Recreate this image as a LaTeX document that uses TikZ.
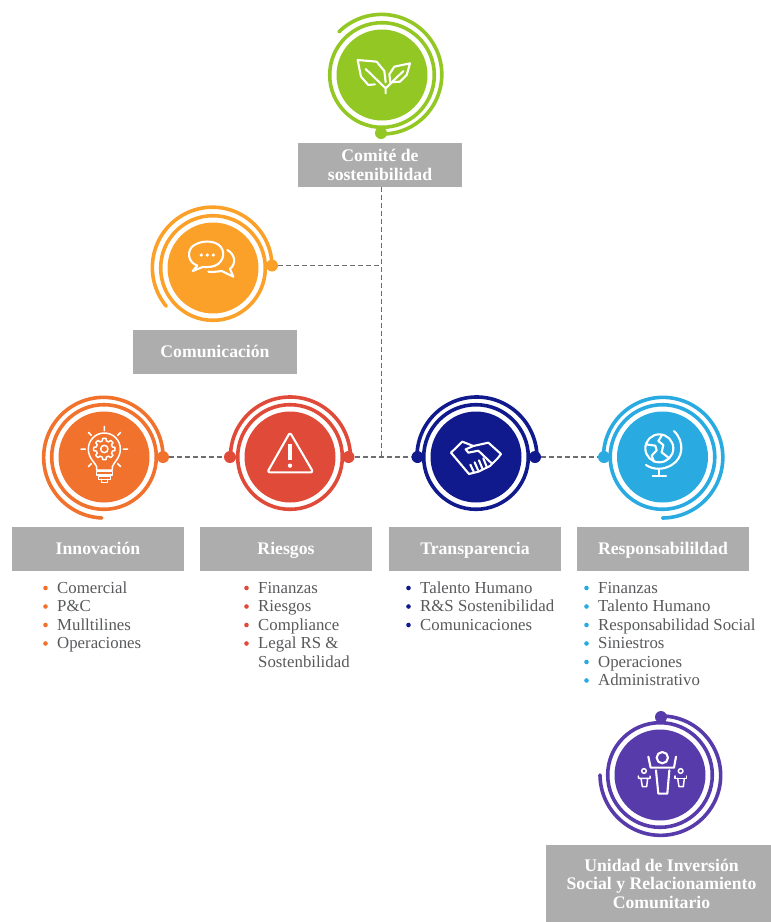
\documentclass[tikz,border=0pt]{standalone}
\usepackage{fontspec}
\setmainfont{Liberation Serif}
\definecolor{cgreen}{HTML}{92C724}
\definecolor{camber}{HTML}{FBA12A}
\definecolor{corange}{HTML}{F0722D}
\definecolor{cred}{HTML}{E04A39}
\definecolor{cnavy}{HTML}{101A8C}
\definecolor{csky}{HTML}{29ABE2}
\definecolor{cpurple}{HTML}{573BAA}
\definecolor{cbox}{HTML}{ADADAD}
\definecolor{ctext}{HTML}{58595B}
\definecolor{cdash}{HTML}{6D6E71}
\tikzset{
  title/.style={fill=cbox,text=white,inner sep=0pt,align=center,font=\fontsize{17.7}{18.5}\selectfont\bfseries},
  item/.style={anchor=base west,inner sep=0pt,text=ctext,font=\fontsize{16.8}{18.5}\selectfont},
  bul/.style={circle,inner sep=0pt,minimum size=4.6pt},
  dotn/.style={circle,inner sep=0pt,minimum size=12pt,fill=#1},
  conn/.style={draw=cdash,line width=1.7pt,dash pattern=on 5pt off 3pt},
  ic/.style={draw=white,line width=2.1pt,line join=round,line cap=round},
  icthin/.style={draw=white,line width=1.5pt,line join=round,line cap=round}
}
\newcommand{\badgedisc}[3]{%
  \fill[#3] (#1,#2) circle[radius=45.5];
  \draw[#3,line width=3.6pt] (#1,#2) circle[radius=52.3];
}
\newcommand{\badgespiral}[5]{% cx cy color a0 a1
  \draw[#3,line width=3.6pt,line cap=round] plot[domain=#4:#5,samples=90,variable=\t]
   ({#1+(59+2*(\t-(#4))/((#5)-(#4)))*cos(\t)},{#2+(59+2*(\t-(#4))/((#5)-(#4)))*sin(\t)});
}
\newcommand{\listitem}[5]{% name x baseline text colour
  \node[item] (#1) at (#2,#3) {#4};
  \node[bul,fill=#5] (#1b) at (#2-11.5,#3-5) {};
}
\begin{document}
\begin{tikzpicture}[x=1pt,y=-1pt]
\useasboundingbox (0,0) rectangle (771,922);

% title boxes
\node[title,minimum width=164pt,minimum height=44pt] (tcomite) at (380,165) {\raisebox{-1pt}{Comité de}\\\raisebox{-1pt}{sostenibilidad}};
\node[title,minimum width=164pt,minimum height=44pt] (tcomu) at (215,352) {\vphantom{Ág}Comunicación};
\node[title,minimum width=172pt,minimum height=44pt] (tinno) at (98,549) {\vphantom{Ág}Innovación};
\node[title,minimum width=172pt,minimum height=44pt] (trisk) at (286,549) {\vphantom{Ág}Riesgos};
\node[title,minimum width=172pt,minimum height=44pt] (ttran) at (475,549) {\vphantom{Ág}Transparencia};
\node[title,minimum width=172pt,minimum height=44pt] (tresp) at (663,549) {\vphantom{Ág}Responsabilildad};
\node[title,minimum width=225pt,minimum height=77pt] (tunid) at (658.5,883.5) {\hspace*{6pt}\raisebox{-3pt}{Unidad de Inversión}\\\hspace*{6pt}\raisebox{-3pt}{Social y Relacionamiento}\\\hspace*{6pt}\raisebox{-3pt}{Comunitario}};

% badges
\badgedisc{382}{75}{cgreen}
\badgespiral{382}{75}{cgreen}{90}{-135}
\node[dotn=cgreen] (dgreen) at (381,133) {};

\badgedisc{213}{268}{camber}
\badgespiral{213}{267}{camber}{0}{-220}
\node[dotn=camber] (damber) at (272,265.5) {};

\badgedisc{104}{457}{corange}
\badgespiral{104}{457}{corange}{0}{-268}
\node[dotn=corange] (dinno) at (163,457) {};

\badgedisc{290}{457}{cred}
\badgespiral{289.5}{457}{cred}{-180}{0}
\node[dotn=cred] (drl) at (230,457) {};
\node[dotn=cred] (drr) at (348.5,457) {};

\badgedisc{476}{457}{cnavy}
\badgespiral{476}{457}{cnavy}{-180}{0}
\node[dotn=cnavy] (dtl) at (417.5,457) {};
\node[dotn=cnavy] (dtr) at (535,457) {};

\badgedisc{662.5}{457}{csky}
\badgespiral{662.5}{457}{csky}{-180}{90}
\node[dotn=csky] (dresp) at (604,457) {};

\badgedisc{660}{775}{cpurple}
\badgespiral{661}{775}{cpurple}{-90}{180}
\node[dotn=cpurple] (dpur) at (661,717) {};

% connectors
\coordinate (jtop) at ([xshift=1.5pt]tcomite.south);
\coordinate (jcomu) at (jtop |- damber);
\coordinate (jmain) at (jtop |- dtl);
\draw[conn] (jtop) -- (jmain);
\draw[conn] (damber) -- (jcomu);
\draw[conn] (dinno) -- (drl);
\draw[conn] (drr) -- (dtl);
\draw[conn] (dtr) -- (dresp);

% lists
\listitem{a1}{57}{593}{Comercial}{corange}
\listitem{a2}{57}{611.5}{P\&C}{corange}
\listitem{a3}{57}{630}{Mulltilines}{corange}
\listitem{a4}{57}{648.5}{Operaciones}{corange}
\listitem{b1}{258}{593}{Finanzas}{cred}
\listitem{b2}{258}{611.5}{Riesgos}{cred}
\listitem{b3}{258}{630}{Compliance}{cred}
\listitem{b4}{258}{648.5}{Legal RS \&}{cred}
\node[item] (b5) at (258,667) {Sostenbilidad};
\listitem{c1}{420}{593}{Talento Humano}{cnavy}
\listitem{c2}{420}{611.5}{R\&S Sostenibilidad}{cnavy}
\listitem{c3}{420}{630}{Comunicaciones}{cnavy}
\listitem{d1}{598}{593}{Finanzas}{csky}
\listitem{d2}{598}{611.5}{Talento Humano}{csky}
\listitem{d3}{598}{630}{Responsabilidad Social}{csky}
\listitem{d4}{598}{648.5}{Siniestros}{csky}
\listitem{d5}{598}{667}{Operaciones}{csky}
\listitem{d6}{598}{685.5}{Administrativo}{csky}

% icon: leaves
\begin{scope}[shift={(345,45)},scale=0.3333]
\draw[ic] (122,112) -- (118,78) -- (95,50) -- (38,45) -- (48,95) -- (70,120) -- (90,118);
\draw[ic] (62,72) -- (122,130) -- (122,145);
\draw[ic] (136,112) -- (133,88) -- (148,65) -- (195,55) -- (185,90) -- (165,110) -- (136,112);
\draw[ic] (175,78) -- (122,130);
\end{scope}

% icon: speech bubbles
\begin{scope}[shift={(180,235)},scale=0.3333]
\draw[ic] (52,92) .. controls (20,80) and (22,45) .. (40,32) .. controls (65,15) and (105,15) .. (122,35) .. controls (140,58) and (125,90) .. (95,95) .. controls (85,97) and (75,97) .. (68,96) -- (38,108) -- (52,92);
\draw[ic] (142,45) .. controls (165,58) and (170,85) .. (150,102) -- (160,125) -- (125,108) .. controls (110,110) and (95,112) .. (85,110);
\fill[white] (64,60) circle[radius=5.5] (82,60) circle[radius=5.5] (100,60) circle[radius=5.5];
\end{scope}

% icon: bulb and gear
\begin{scope}[shift={(75,425)},scale=0.3333]
\draw[icthin] (65,135) -- (65,125) .. controls (60,112) and (40,100) .. (40,72) arc[start angle=180,end angle=360,radius=48] .. controls (136,100) and (116,112) .. (112,125) -- (112,135) -- cycle;
\draw[icthin] (65,140) rectangle (112,150);
\draw[icthin] (70,153) rectangle (107,163);
\draw[icthin] (80,163) -- (80,172) -- (97,172) -- (97,163);
\draw[icthin] (88,4) -- (88,17) (18,72) -- (31,72) (145,72) -- (158,72) (40,22) -- (49,31) (137,22) -- (128,31) (40,125) -- (49,116) (137,125) -- (128,116);
\draw[icthin] (88,72) circle[radius=11];
\draw[icthin] (88+32,72)
 \foreach \a in {0,45,...,315} {
   -- ({88+32*cos(\a+9)},{72+32*sin(\a+9)}) -- ({88+25*cos(\a+14)},{72+25*sin(\a+14)}) -- ({88+25*cos(\a+31)},{72+25*sin(\a+31)}) -- ({88+32*cos(\a+36)},{72+32*sin(\a+36)}) -- ({88+32*cos(\a+45)},{72+32*sin(\a+45)})
 } -- cycle;
\end{scope}

% icon: warning triangle
\begin{scope}[shift={(30,385)},scale=0.3333]
\draw[ic,rounded corners=2.5pt] (780,142) -- (712,262) -- (850,262) -- cycle;
\draw[white,line width=3.4pt] (780,178) -- (780,226);
\fill[white] (780,242) circle[radius=6.5];
\end{scope}

% icon: handshake
\begin{scope}[shift={(445,430)},scale=0.3333]
\draw[ic] (52,35) -- (18,68) -- (72,132) -- (100,125) -- (135,108) -- (158,85) -- (168,72) -- (130,38) -- (85,48) -- (62,58) -- (70,68) -- (100,62) -- (140,100);
\draw[ic] (52,35) -- (85,48);
\draw[ic] (86,125) -- (76,104) (99,120) -- (89,97) (112,115) -- (102,91) (125,110) -- (115,85);
\end{scope}

% icon: globe
\begin{scope}[shift={(630,425)},scale=0.3333]
\draw[ic] (88,70) circle[radius=42];
\draw[ic] (132,18) .. controls (165,50) and (160,100) .. (125,120) .. controls (100,135) and (70,135) .. (48,120);
\draw[ic] (88,132) -- (88,152) (68,152) -- (108,152);
\draw[ic] (96,30) -- (85,48) -- (100,60) -- (95,82) -- (118,100);
\draw[ic] (48,58) -- (76,62) -- (80,76) -- (65,92) -- (72,110);
\end{scope}

% icon: people
\begin{scope}[shift={(630,745)},scale=0.3333]
\draw[ic] (97,38) circle[radius=17];
\draw[ic] (55,35) -- (62,68) -- (132,68) -- (138,35);
\draw[ic] (78,76) -- (85,146) -- (112,146) -- (118,76);
\draw[icthin] (42,78) circle[radius=7] (152,78) circle[radius=7];
\draw[icthin] (25,93) -- (26,100) -- (60,100) -- (60,93);
\draw[icthin] (33,100) -- (37,125) -- (50,125) -- (53,100);
\draw[icthin] (135,93) -- (135,100) -- (170,100) -- (170,93);
\draw[icthin] (143,100) -- (147,125) -- (160,125) -- (163,100);
\end{scope}
\end{tikzpicture}
\end{document}
